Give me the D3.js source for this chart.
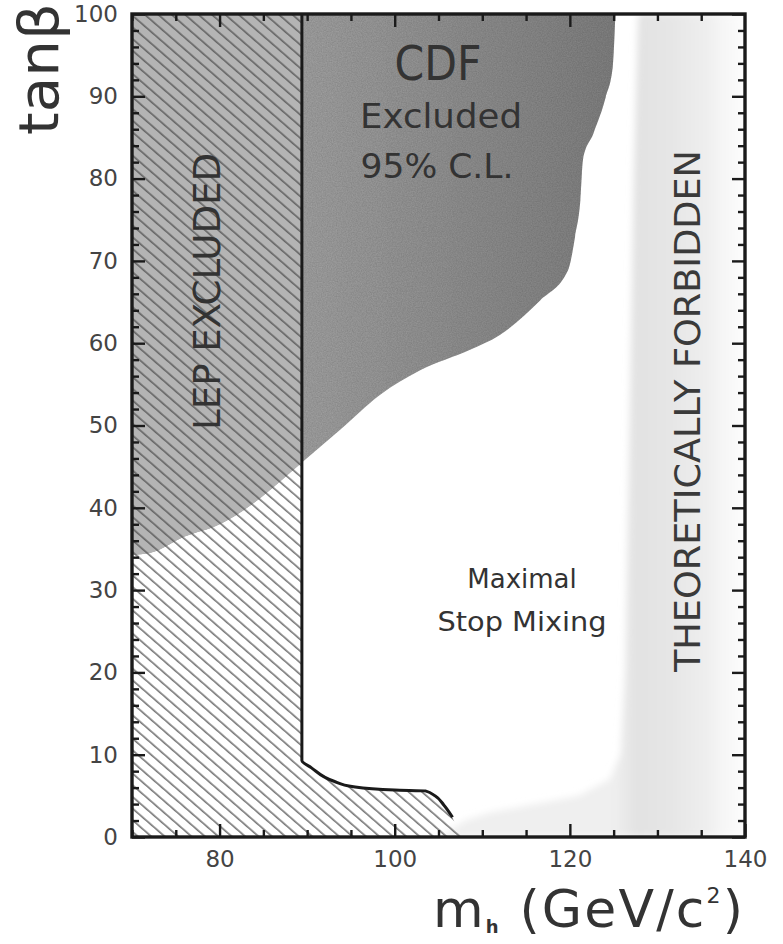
<html>
<head>
<script src="https://d3js.org/d3.v7.min.js"></script>
<style>
  body { margin: 0; background: #fff; }
  text { font-family: "DejaVu Sans", sans-serif; fill: #333; }
</style>
</head>
<body>
<svg id="chart" width="783" height="944"></svg>
<script>
// CDF 95% C.L. exclusion boundary (mh, tanBeta)
const cdfMh   = [70, 72, 76, 80, 82.3, 85, 89.4, 93.8, 98.3, 102.9, 108.6, 112, 116.6, 119.8, 120.6, 121.2, 121.5, 122.7, 124.1, 124.9, 125.2];
const cdfTanb = [34.3, 34.5, 36.5, 38, 39.4, 41.5, 45.5, 49.5, 53.7, 56.7, 59.2, 61, 65.2, 68.9, 73, 77.4, 82.3, 85.5, 89.9, 93.6, 100];

// LEP exclusion boundary
const lepMh   = [89.4, 89.4, 90.5, 93, 95.3, 100, 103.5, 104.6, 105.6, 106.6];
const lepTanb = [100, 9.3, 8.4, 6.8, 6.1, 5.7, 5.6, 5.0, 3.9, 2.4];

// theoretically forbidden band, left edge
const thMh   = [127.8, 127.3, 126.8, 126.3, 125.8, 124.5, 121, 116, 111, 108];
const thTanb = [100, 80, 50, 20, 10, 7, 5, 4, 3, 2];
const thRight = 140;

const xTicks = [80, 100, 120, 140];
const yTicks = [0, 10, 20, 30, 40, 50, 60, 70, 80, 90, 100];

const svg = d3.select("#chart");
const mLeft = 132, mRight = 745, mTop = 14, mBottom = 837;

const x = d3.scaleLinear().domain([70, 140]).range([mLeft, mRight]);
const y = d3.scaleLinear().domain([0, 100]).range([mBottom, mTop]);

const defs = svg.append("defs");

// hatch pattern for LEP
const pat = defs.append("pattern")
    .attr("id", "hatch")
    .attr("patternUnits", "userSpaceOnUse")
    .attr("width", 40).attr("height", 8.8)
    .attr("patternTransform", "rotate(41)");
pat.append("line")
    .attr("x1", 0).attr("x2", 40).attr("y1", 4).attr("y2", 4)
    .attr("stroke", "#4a4a4a").attr("stroke-width", 1.2);

// horizontal shading of the forbidden band
const grad = defs.append("linearGradient").attr("id", "theo")
    .attr("gradientUnits", "userSpaceOnUse")
    .attr("x1", x(125)).attr("x2", x(140)).attr("y1", 0).attr("y2", 0);
[[0, "#efefef"], [0.18, "#e2e2e2"], [0.45, "#e6e6e6"], [0.7, "#eeeeee"], [0.85, "#f7f7f7"], [1, "#fcfcfc"]]
  .forEach(s => grad.append("stop").attr("offset", s[0]).attr("stop-color", s[1]));

const cdfGrad = defs.append("linearGradient").attr("id", "cdfg")
    .attr("gradientUnits", "userSpaceOnUse")
    .attr("x1", x(89)).attr("x2", x(125)).attr("y1", 0).attr("y2", 0);
cdfGrad.append("stop").attr("offset", 0).attr("stop-color", "#a4a4a4");
cdfGrad.append("stop").attr("offset", 1).attr("stop-color", "#828282");

defs.append("filter").attr("id", "soft")
    .attr("x", "-10%").attr("y", "-2%").attr("width", "120%").attr("height", "104%")
  .append("feGaussianBlur").attr("stdDeviation", 3.5);

// scanned-paper grain
const grain = defs.append("filter").attr("id", "grain");
grain.append("feTurbulence").attr("type", "fractalNoise").attr("baseFrequency", 0.8)
    .attr("numOctaves", 2).attr("seed", 3).attr("result", "noise");
grain.append("feColorMatrix").attr("in", "noise").attr("type", "matrix")
    .attr("values", "0 0 0 0 0  0 0 0 0 0  0 0 0 0 0  0 0 0 0.35 0").attr("result", "dark");
grain.append("feComposite").attr("in", "dark").attr("in2", "SourceGraphic").attr("operator", "in").attr("result", "dots");
const gm = grain.append("feMerge");
gm.append("feMergeNode").attr("in", "SourceGraphic");
gm.append("feMergeNode").attr("in", "dots");

const pts = (xs, ys) => xs.map((v, i) => [x(v), y(ys[i])]);

const line = d3.line();
const smooth = d3.line().curve(d3.curveMonotoneX);

// polygons
const cdfPath = smooth(pts(cdfMh, cdfTanb)) + "L" + x(70) + "," + y(100) + "Z";
const lepPoly = [[x(70), y(100)]].concat(pts(lepMh, lepTanb), [[x(107.6), y(0)], [x(70), y(0)]]);
const thPoly = pts(thMh, thTanb).concat([[x(105), y(0)], [x(thRight), y(0)], [x(thRight), y(100)]]);

defs.append("clipPath").attr("id", "lepClip")
  .append("path").attr("d", line(lepPoly) + "Z");
defs.append("clipPath").attr("id", "plotClip")
  .append("rect").attr("x", mLeft).attr("y", mTop).attr("width", mRight - mLeft).attr("height", mBottom - mTop);

// theoretically forbidden band
svg.append("g").attr("clip-path", "url(#plotClip)")
  .append("path").attr("d", line(thPoly) + "Z").attr("fill", "url(#theo)").attr("filter", "url(#soft)");

// CDF region
svg.append("path").attr("d", cdfPath).attr("fill", "url(#cdfg)").attr("filter", "url(#grain)");

// LEP region: lighter grey above CDF boundary, then hatching
const lepG = svg.append("g").attr("clip-path", "url(#lepClip)");
lepG.append("path").attr("d", cdfPath).attr("fill", "#b4b4b4");
lepG.append("path").attr("d", line(lepPoly) + "Z").attr("fill", "url(#hatch)");

// LEP boundary line
svg.append("path")
    .attr("d", d3.line().curve(d3.curveMonotoneY)(pts(lepMh, lepTanb)))
    .attr("fill", "none").attr("stroke", "#1a1a1a").attr("stroke-width", 3);

// axes: ticks inward
function addAxis(axisFn, scale, tr, values, size, labels) {
  const g = svg.append("g").attr("transform", tr)
    .call(axisFn(scale).tickValues(values).tickSize(size).tickPadding(14)
      .tickFormat(labels ? d3.format("d") : ""));
  g.select(".domain").remove();
  g.selectAll(".tick line").attr("stroke", "#1a1a1a").attr("stroke-width", 2.4);
  g.selectAll(".tick text").style("font-size", "23px").style("fill", "#444")
    .style("font-family", "'DejaVu Sans', sans-serif");
  return g;
}
const xMinor = d3.range(70, 141, 5).filter(v => v % 20 !== 0);
const yMinor = d3.range(0, 101, 2).filter(v => v % 10 !== 0);

addAxis(d3.axisBottom, x, `translate(0,${mBottom})`, xTicks, -13, true);
addAxis(d3.axisBottom, x, `translate(0,${mBottom})`, xMinor, -7, false);
addAxis(d3.axisTop, x, `translate(0,${mTop})`, [80, 100, 120], -13, false);
addAxis(d3.axisTop, x, `translate(0,${mTop})`, xMinor, -7, false);
addAxis(d3.axisLeft, y, `translate(${mLeft},0)`, yTicks, -13, true);
addAxis(d3.axisLeft, y, `translate(${mLeft},0)`, yMinor, -7, false);
addAxis(d3.axisRight, y, `translate(${mRight},0)`, yTicks, -13, false);
addAxis(d3.axisRight, y, `translate(${mRight},0)`, yMinor, -7, false);

// frame
svg.append("rect")
    .attr("x", mLeft).attr("y", mTop)
    .attr("width", mRight - mLeft).attr("height", mBottom - mTop)
    .attr("fill", "none").attr("stroke", "#1a1a1a").attr("stroke-width", 3.4);

// region labels
svg.append("text").attr("x", 438).attr("y", 80).attr("text-anchor", "middle")
    .attr("textLength", 87).attr("lengthAdjust", "spacingAndGlyphs")
    .style("font-size", "48px").text("CDF");
svg.append("text").attr("x", 441).attr("y", 128).attr("text-anchor", "middle")
    .attr("textLength", 162).attr("lengthAdjust", "spacingAndGlyphs")
    .style("font-size", "34px").text("Excluded");
svg.append("text").attr("x", 437).attr("y", 178).attr("text-anchor", "middle")
    .attr("textLength", 153).attr("lengthAdjust", "spacingAndGlyphs")
    .style("font-size", "34px").text("95% C.L.");

svg.append("text").attr("transform", "translate(220,430) rotate(-90)")
    .attr("textLength", 277).attr("lengthAdjust", "spacingAndGlyphs")
    .style("font-size", "37px").text("LEP EXCLUDED");

svg.append("text").attr("transform", "translate(700,672) rotate(-90)")
    .attr("textLength", 522).attr("lengthAdjust", "spacingAndGlyphs")
    .style("font-size", "35px").style("fill", "#3a3a3a").text("THEORETICALLY FORBIDDEN");

svg.append("text").attr("x", 522).attr("y", 588).attr("text-anchor", "middle")
    .style("font-size", "26px").text("Maximal");
svg.append("text").attr("x", 522).attr("y", 631).attr("text-anchor", "middle")
    .attr("textLength", 169).attr("lengthAdjust", "spacingAndGlyphs")
    .style("font-size", "27px").text("Stop Mixing");

// axis titles
svg.append("text").attr("transform", "translate(58,135) rotate(-90)")
    .attr("textLength", 132).attr("lengthAdjust", "spacingAndGlyphs")
    .style("font-size", "56px").text("tanβ");

const xt = svg.append("text").attr("x", 433).attr("y", 927).style("font-size", "52px")
    .attr("textLength", 310).attr("lengthAdjust", "spacing");
xt.append("tspan").text("m");
xt.append("tspan").attr("dy", 6).style("font-size", "18px").style("font-weight", "bold").text("h");
xt.append("tspan").attr("dy", -6).text(" (GeV/c");
xt.append("tspan").attr("dy", -24).style("font-size", "22px").text("2");
xt.append("tspan").attr("dy", 24).text(")");
</script>
</body>
</html>
